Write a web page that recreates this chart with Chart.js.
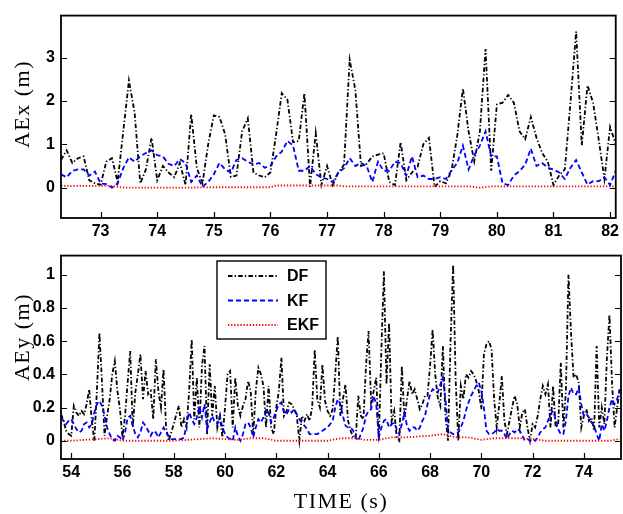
<!DOCTYPE html>
<html>
<head>
<meta charset="utf-8">
<script src="https://cdn.jsdelivr.net/npm/chart.js@4.4.0/dist/chart.umd.min.js"></script>
<style>
    html, body { margin: 0; padding: 0; background: #fff; }
    #wrap { position: relative; width: 623px; height: 514px; }
    #topWrap { position: absolute; left: 0; top: 0; width: 623px; height: 240px; }
    #bottomWrap { position: absolute; left: 0; top: 240px; width: 623px; height: 274px; }
</style>
</head>
<body>
<div id="wrap">
    <div id="topWrap"><canvas id="topChart"></canvas></div>
    <div id="bottomWrap"><canvas id="bottomChart"></canvas></div>
</div>
<script>
// ============================================
// AEx / AEy error plots (DF, KF, EKF)
// ============================================

// --- top panel: AEx, sampled every 0.1 s from 72.3 s ---
const topStart = 72.3;
const topStep = 0.1;
const topDF = [
    0.64, 0.86, 0.57, 0.68, 0.72, 0.17, 0.10, 0.07, 0.60, 0.68,
    0.13, 1.30, 2.47, 1.74, 0.10, 0.42, 1.15, 0.17, 0.50, 0.35,
    0.24, 0.57, 0.06, 1.70, 0.45, 0.10, 1.00, 1.67, 1.63, 1.23,
    0.25, 0.28, 1.30, 1.60, 0.35, 0.28, 0.24, 0.35, 1.23, 2.18,
    2.03, 1.05, 1.08, 2.18, 0.02, 1.26, 0.06, 0.50, 0.06, 0.35,
    0.53, 2.95, 2.25, 0.50, 0.55, 0.72, 0.76, 0.79, 0.13, 0.06,
    1.05, 0.17, 0.35, 0.48, 1.00, 1.15, 0.02, 0.15, 0.10, 0.40,
    1.20, 2.29, 1.30, 0.60, 1.30, 3.20, 0.39, 1.92, 1.96, 2.14,
    1.96, 1.30, 1.12, 1.63, 1.15, 0.80, 0.60, 0.06, 0.28, 0.42,
    1.96, 3.60, 0.97, 2.36, 1.96, 1.10, 0.20, 1.40, 1.00
];
const topKF = [
    0.31, 0.24, 0.39, 0.42, 0.42, 0.28, 0.37, 0.10, 0.08, 0.00,
    0.10, 0.45, 0.70, 0.60, 0.72, 0.80, 0.86, 0.75, 0.72, 0.55,
    0.50, 0.66, 0.57, 0.13, 0.28, 0.02, 0.13, 0.31, 0.57, 0.42,
    0.35, 0.64, 0.68, 0.60, 0.53, 0.57, 0.46, 0.50, 0.72, 0.83,
    1.08, 0.97, 0.39, 0.39, 0.50, 0.31, 0.24, 0.20, 0.13, 0.35,
    0.45, 0.68, 0.50, 0.57, 0.50, 0.13, 0.60, 0.39, 0.39, 0.60,
    0.57, 0.28, 0.72, 0.24, 0.28, 0.20, 0.20, 0.24, 0.20, 0.40,
    0.57, 0.97, 0.42, 0.75, 0.97, 1.30, 0.72, 0.72, 0.10, 0.06,
    0.28, 0.38, 0.53, 0.90, 0.50, 0.57, 0.46, 0.42, 0.35, 0.20,
    0.46, 0.64, 0.35, 0.07, 0.15, 0.15, 0.24, 0.06, 0.39
];
const topEkfTime = [72.3, 72.8, 73.2, 73.4, 74.0, 74.5, 75.0, 75.5, 76.0, 76.1, 76.5, 77.0, 77.2, 77.3, 78.0, 78.5, 79.0, 79.5, 79.7, 79.9, 80.5, 81.0, 81.5, 82.1];
const topEKF = [0.04, 0.04, 0.04, 0.00, 0.00, 0.00, 0.01, 0.01, 0.01, 0.05, 0.05, 0.05, 0.05, 0.03, 0.03, 0.03, 0.03, 0.03, 0.00, 0.03, 0.03, 0.03, 0.03, 0.03];
const topXTicks = [73, 74, 75, 76, 77, 78, 79, 80, 81, 82];
const topYTicks = [0, 1, 2, 3];

// --- bottom panel: AEy, sampled every 0.1 s from 53.6 s ---
const bottomStart = 53.6;
const bottomStep = 0.1;
const bottomDF = [
    0.16, 0.12, 0.06, 0.04, 0.03, 0.21, 0.17, 0.15, 0.18, 0.16,
    0.22, 0.31, 0.12, 0.00, 0.30, 0.65, 0.35, 0.03, 0.15, 0.25,
    0.40, 0.48, 0.30, 0.19, 0.02, 0.15, 0.35, 0.54, 0.08, 0.29,
    0.40, 0.52, 0.25, 0.42, 0.28, 0.30, 0.13, 0.49, 0.30, 0.20,
    0.43, 0.08, 0.00, 0.05, 0.10, 0.16, 0.21, 0.08, 0.13, 0.08,
    0.30, 0.61, 0.13, 0.38, 0.08, 0.45, 0.57, 0.04, 0.46, 0.15,
    0.33, 0.08, 0.15, 0.02, 0.20, 0.40, 0.42, 0.08, 0.38, 0.21,
    0.15, 0.21, 0.25, 0.36, 0.30, 0.04, 0.30, 0.44, 0.40, 0.33,
    0.08, 0.33, 0.08, 0.04, 0.20, 0.30, 0.50, 0.15, 0.18, 0.23,
    0.22, 0.19, 0.15, 0.00, 0.15, 0.12, 0.16, 0.12, 0.20, 0.55,
    0.25, 0.20, 0.46, 0.24, 0.18, 0.15, 0.19, 0.40, 0.63, 0.15,
    0.25, 0.34, 0.12, 0.06, 0.02, 0.02, 0.27, 0.15, 0.13, 0.45,
    0.66, 0.23, 0.30, 0.38, 0.00, 0.55, 1.02, 0.34, 0.71, 0.12,
    0.18, 0.02, 0.00, 0.45, 0.13, 0.25, 0.36, 0.28, 0.31, 0.25,
    0.19, 0.22, 0.27, 0.27, 0.45, 0.67, 0.40, 0.26, 0.21, 0.57,
    0.15, 0.00, 0.60, 1.06, 0.36, 0.00, 0.33, 0.25, 0.40, 0.38,
    0.42, 0.40, 0.36, 0.30, 0.19, 0.52, 0.58, 0.60, 0.55, 0.25,
    0.08, 0.22, 0.39, 0.12, 0.04, 0.12, 0.20, 0.27, 0.22, 0.08,
    0.17, 0.19, 0.08, 0.00, 0.10, 0.08, 0.15, 0.25, 0.33, 0.28,
    0.34, 0.08, 0.33, 0.08, 0.10, 0.47, 0.08, 0.30, 1.00, 0.65,
    0.38, 0.40, 0.35, 0.08, 0.15, 0.19, 0.12, 0.14, 0.06, 0.57,
    0.08, 0.20, 0.10, 0.50, 0.76, 0.35, 0.08, 0.20, 0.31
];
const bottomKF = [
    0.14, 0.12, 0.10, 0.12, 0.13, 0.10, 0.07, 0.05, 0.06, 0.10,
    0.11, 0.08, 0.10, 0.17, 0.22, 0.24, 0.21, 0.15, 0.08, 0.04,
    0.01, 0.00, 0.03, 0.02, 0.00, 0.05, 0.14, 0.15, 0.09, 0.04,
    0.02, 0.05, 0.11, 0.09, 0.06, 0.03, 0.06, 0.05, 0.02, 0.05,
    0.08, 0.05, 0.03, 0.01, 0.01, 0.01, 0.01, 0.01, 0.02, 0.10,
    0.17, 0.13, 0.10, 0.14, 0.21, 0.14, 0.22, 0.07, 0.11, 0.15,
    0.11, 0.10, 0.15, 0.08, 0.04, 0.02, 0.01, 0.00, 0.08, 0.03,
    0.00, 0.04, 0.10, 0.11, 0.08, 0.02, 0.08, 0.13, 0.11, 0.14,
    0.19, 0.17, 0.11, 0.14, 0.18, 0.22, 0.23, 0.17, 0.16, 0.19,
    0.17, 0.19, 0.16, 0.13, 0.11, 0.09, 0.07, 0.04, 0.04, 0.04,
    0.04, 0.05, 0.06, 0.07, 0.08, 0.10, 0.12, 0.20, 0.25, 0.22,
    0.15, 0.09, 0.08, 0.08, 0.06, 0.02, 0.00, 0.04, 0.08, 0.15,
    0.18, 0.19, 0.27, 0.22, 0.02, 0.08, 0.12, 0.13, 0.08, 0.10,
    0.11, 0.07, 0.04, 0.10, 0.17, 0.09, 0.06, 0.08, 0.08, 0.06,
    0.08, 0.12, 0.15, 0.22, 0.28, 0.31, 0.30, 0.29, 0.34, 0.38,
    0.25, 0.07, 0.05, 0.04, 0.04, 0.05, 0.08, 0.12, 0.18, 0.23,
    0.27, 0.30, 0.33, 0.35, 0.30, 0.20, 0.06, 0.04, 0.04, 0.05,
    0.07, 0.06, 0.06, 0.04, 0.01, 0.04, 0.06, 0.05, 0.07, 0.06,
    0.03, 0.00, 0.01, 0.00, 0.01, 0.00, 0.02, 0.05, 0.07, 0.08,
    0.12, 0.16, 0.18, 0.13, 0.07, 0.04, 0.04, 0.12, 0.27, 0.32,
    0.28, 0.28, 0.32, 0.22, 0.15, 0.16, 0.14, 0.11, 0.09, 0.04,
    0.00, 0.10, 0.06, 0.12, 0.20, 0.25, 0.22, 0.25, 0.31
];
const bottomEkfTime = [
    53.6, 54.0, 54.5, 55.0, 55.5, 56.0, 56.5, 57.0, 57.5, 58.0,
    58.5, 59.0, 59.5, 60.0, 60.5, 61.0, 61.5, 62.0, 62.5, 63.0,
    63.5, 64.0, 64.5, 65.0, 65.5, 66.0, 66.5, 67.0, 67.5, 68.0,
    68.5, 69.0, 69.5, 70.0, 70.5, 71.0, 71.5, 72.0, 72.5, 73.0,
    73.5, 74.0, 74.5, 75.0, 75.4
];
const bottomEKF = [
    0.000, 0.000, 0.005, 0.010, 0.015, 0.000, 0.000, 0.000, 0.000, 0.000,
    0.005, 0.010, 0.015, 0.010, 0.005, 0.015, 0.015, 0.000, 0.000, 0.000,
    0.000, 0.000, 0.015, 0.015, 0.005, 0.005, 0.020, 0.020, 0.025, 0.030,
    0.040, 0.020, 0.020, 0.005, 0.015, 0.015, 0.015, 0.010, 0.000, 0.000,
    0.000, 0.000, 0.000, 0.000, 0.010
];
const bottomXTicks = [54, 56, 58, 60, 62, 64, 66, 68, 70, 72, 74];
const bottomYTicks = [0, 0.2, 0.4, 0.6, 0.8, 1];

const seriesNames = ['DF', 'KF', 'EKF'];

const TICK_FONT = "'Liberation Sans', Arial, sans-serif";
const TITLE_FONT = "'Liberation Serif', 'Times New Roman', serif";
const TICK_LEN = 6;

function sampled(start, step, values) {
    return values.map((v, i) => ({ x: start + i * step, y: v }));
}

function paired(times, values) {
    return values.map((v, i) => ({ x: times[i], y: v }));
}

function lineDataset(label, points, color, dash, order) {
    return {
        label: label,
        data: points,
        borderColor: color,
        borderWidth: 1.8,
        borderDash: dash,
        pointRadius: 0,
        tension: 0,
        fill: false,
        order: order
    };
}

// Axes box with inside tick marks (bottom, left, right)
const framePlugin = {
    id: 'frame',
    afterDatasetsDraw(chart) {
        const { ctx, chartArea: a, scales } = chart;
        ctx.save();
        ctx.setLineDash([]);
        ctx.strokeStyle = '#000';
        ctx.lineWidth = 1.2;
        ctx.beginPath();
        scales.x.ticks.forEach(t => {
            const px = Math.round(scales.x.getPixelForValue(t.value)) + 0.5;
            ctx.moveTo(px, a.bottom);
            ctx.lineTo(px, a.bottom - TICK_LEN);
        });
        scales.y.ticks.forEach(t => {
            const py = Math.round(scales.y.getPixelForValue(t.value)) + 0.5;
            ctx.moveTo(a.left, py);
            ctx.lineTo(a.left + TICK_LEN, py);
            ctx.moveTo(a.right, py);
            ctx.lineTo(a.right - TICK_LEN, py);
        });
        ctx.stroke();
        ctx.lineWidth = 1.8;
        ctx.strokeRect(a.left, a.top, a.right - a.left, a.bottom - a.top);
        ctx.restore();
    }
};

// Axis titles drawn in Times-like serif
const titlePlugin = {
    id: 'axisTitles',
    afterDraw(chart, args, opts) {
        const ctx = chart.ctx;
        ctx.save();
        ctx.fillStyle = '#000';
        ctx.font = '22px ' + TITLE_FONT;
        ctx.letterSpacing = '1.5px';
        ctx.textAlign = 'center';
        ctx.textBaseline = 'alphabetic';
        if (opts.yTitle) {
            ctx.save();
            ctx.translate(opts.yTitleX, opts.yTitleY);
            ctx.rotate(-Math.PI / 2);
            ctx.fillText(opts.yTitle, 0, 0);
            ctx.restore();
        }
        if (opts.xTitle) {
            ctx.fillText(opts.xTitle, opts.xTitleX, opts.xTitleY);
        }
        ctx.restore();
    }
};

// Boxed legend inside the lower panel
const boxLegendPlugin = {
    id: 'boxLegend',
    afterDraw(chart, args, opts) {
        if (!opts.show) return;
        const ctx = chart.ctx;
        const b = opts.box;
        ctx.save();
        ctx.fillStyle = '#fff';
        ctx.fillRect(b.x, b.y, b.w, b.h);
        ctx.strokeStyle = '#000';
        ctx.lineWidth = 1.4;
        ctx.setLineDash([]);
        ctx.strokeRect(b.x, b.y, b.w, b.h);
        const items = chart.data.datasets.slice().sort((p, q) => seriesNames.indexOf(p.label) - seriesNames.indexOf(q.label));
        items.forEach((ds, i) => {
            const y = b.y + b.first + i * b.gap;
            ctx.strokeStyle = ds.borderColor;
            ctx.lineWidth = ds.borderWidth;
            ctx.setLineDash(ds.borderDash || []);
            ctx.beginPath();
            ctx.moveTo(b.x + b.lineX0, y);
            ctx.lineTo(b.x + b.lineX1, y);
            ctx.stroke();
            ctx.setLineDash([]);
            ctx.fillStyle = '#000';
            ctx.font = 'bold 16px ' + TICK_FONT;
            ctx.textAlign = 'left';
            ctx.textBaseline = 'middle';
            ctx.fillText(ds.label, b.x + b.textX, y + 1);
        });
        ctx.restore();
    }
};

function makePanel(canvasId, cfg) {
    const ctx = document.getElementById(canvasId);
    return new Chart(ctx, {
        type: 'line',
        data: {
            datasets: [
                lineDataset(seriesNames[0], cfg.df, '#000000', [4.5, 2.2, 1.3, 2.2], 3),
                lineDataset(seriesNames[1], cfg.kf, '#0000ff', [5, 3], 2),
                lineDataset(seriesNames[2], cfg.ekf, '#ff0000', [1.3, 1.8], 1)
            ]
        },
        options: {
            responsive: true,
            maintainAspectRatio: false,
            animation: false,
            layout: { padding: { top: cfg.padTop, right: 2, left: 0, bottom: 0 } },
            plugins: {
                legend: { display: false },
                tooltip: { enabled: false },
                axisTitles: cfg.titles,
                boxLegend: cfg.legend
            },
            scales: {
                x: {
                    type: 'linear',
                    min: cfg.xMin,
                    max: cfg.xMax,
                    afterBuildTicks: s => { s.ticks = cfg.xTicks.map(v => ({ value: v })); },
                    afterFit: s => { s.height = cfg.xAxisHeight; },
                    grid: { display: false, drawTicks: false },
                    border: { display: false },
                    ticks: {
                        color: '#000',
                        padding: 4,
                        maxRotation: 0,
                        autoSkip: false,
                        font: { family: TICK_FONT, size: 16, weight: 'bold' },
                        callback: v => String(v)
                    }
                },
                y: {
                    type: 'linear',
                    min: cfg.yMin,
                    max: cfg.yMax,
                    afterBuildTicks: s => { s.ticks = cfg.yTicks.map(v => ({ value: v })); },
                    afterFit: s => { s.width = 61; },
                    grid: { display: false, drawTicks: false },
                    border: { display: false },
                    ticks: {
                        color: '#000',
                        padding: 6,
                        autoSkip: false,
                        font: { family: TICK_FONT, size: 16, weight: 'bold' },
                        callback: v => String(v)
                    }
                }
            }
        },
        plugins: [framePlugin, titlePlugin, boxLegendPlugin]
    });
}

document.addEventListener('DOMContentLoaded', () => {
    makePanel('topChart', {
        df: sampled(topStart, topStep, topDF),
        kf: sampled(topStart, topStep, topKF),
        ekf: paired(topEkfTime, topEKF),
        xMin: 72.3, xMax: 82.1,
        yMin: -0.7, yMax: 3.97,
        xTicks: topXTicks,
        yTicks: topYTicks,
        padTop: 5,
        xAxisHeight: 22,
        titles: { yTitle: 'AEx (m)', yTitleX: 29, yTitleY: 104 },
        legend: { show: false }
    });

    makePanel('bottomChart', {
        df: sampled(bottomStart, bottomStep, bottomDF),
        kf: sampled(bottomStart, bottomStep, bottomKF),
        ekf: paired(bottomEkfTime, bottomEKF),
        xMin: 53.6, xMax: 75.45,
        yMin: -0.11, yMax: 1.115,
        xTicks: bottomXTicks,
        yTicks: bottomYTicks,
        padTop: 6,
        xAxisHeight: 55,
        titles: { yTitle: 'AEy (m)', yTitleX: 29, yTitleY: 97, xTitle: 'TIME (s)', xTitleX: 341, xTitleY: 268 },
        legend: {
            show: true,
            box: { x: 217, y: 21, w: 109, h: 78, first: 15, gap: 24.5, lineX0: 11, lineX1: 61, textX: 70 }
        }
    });
});
</script>
</body>
</html>
